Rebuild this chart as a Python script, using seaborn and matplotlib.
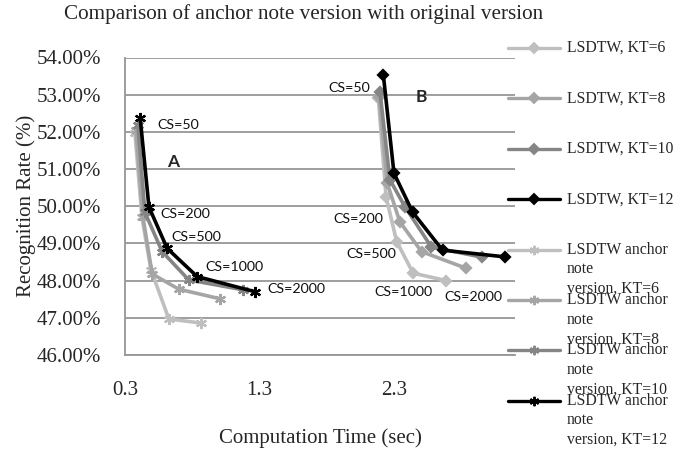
import numpy as np
import pandas as pd
import matplotlib
matplotlib.use("Agg")
import matplotlib.pyplot as plt
from matplotlib.lines import Line2D
from matplotlib.ticker import FuncFormatter, FixedLocator
import seaborn as sns

# ---- data -------------------------------------------------------------
cs_labels = ["CS=50", "CS=200", "CS=500", "CS=1000", "CS=2000"]

# original LSDTW (computation time in sec, recognition rate in %)
lsdtw_kt6_time = [2.184, 2.241, 2.320, 2.443, 2.690]
lsdtw_kt6_rate = [52.90, 50.26, 49.05, 48.20, 48.00]
lsdtw_kt8_time = [2.189, 2.250, 2.344, 2.505, 2.839]
lsdtw_kt8_rate = [52.95, 50.62, 49.58, 48.78, 48.33]
lsdtw_kt10_time = [2.196, 2.270, 2.381, 2.579, 2.957]
lsdtw_kt10_rate = [53.08, 50.71, 49.99, 48.90, 48.63]
lsdtw_kt12_time = [2.221, 2.300, 2.439, 2.661, 3.122]
lsdtw_kt12_rate = [53.53, 50.89, 49.84, 48.82, 48.64]

# anchor note version
anchor_kt6_time = [0.374, 0.426, 0.493, 0.626, 0.863]
anchor_kt6_rate = [51.97, 49.70, 48.29, 46.97, 46.86]
anchor_kt8_time = [0.381, 0.433, 0.502, 0.700, 1.009]
anchor_kt8_rate = [52.05, 49.72, 48.18, 47.77, 47.51]
anchor_kt10_time = [0.396, 0.448, 0.576, 0.774, 1.181]
anchor_kt10_rate = [52.18, 49.84, 48.78, 48.02, 47.75]
anchor_kt12_time = [0.413, 0.478, 0.613, 0.836, 1.268]
anchor_kt12_rate = [52.37, 49.98, 48.87, 48.11, 47.70]

series_names = ["LSDTW, KT=6", "LSDTW, KT=8", "LSDTW, KT=10", "LSDTW, KT=12",
                "LSDTW anchor\nnote\nversion, KT=6", "LSDTW anchor\nnote\nversion, KT=8",
                "LSDTW anchor\nnote\nversion, KT=10", "LSDTW anchor\nnote\nversion, KT=12"]
series_time = [lsdtw_kt6_time, lsdtw_kt8_time, lsdtw_kt10_time, lsdtw_kt12_time,
               anchor_kt6_time, anchor_kt8_time, anchor_kt10_time, anchor_kt12_time]
series_rate = [lsdtw_kt6_rate, lsdtw_kt8_rate, lsdtw_kt10_rate, lsdtw_kt12_rate,
               anchor_kt6_rate, anchor_kt8_rate, anchor_kt10_rate, anchor_kt12_rate]

x_ticks = [0.3, 1.3, 2.3]
y_ticks = [46, 47, 48, 49, 50, 51, 52, 53, 54]

# CS annotations for each group (time, rate)
group_a_label_pos = [(0.693, 52.18), (0.752, 49.79), (0.833, 49.17), (1.111, 48.37), (1.578, 47.78)]
group_b_label_pos = [(1.970, 53.18), (2.033, 49.66), (2.133, 48.72), (2.370, 47.69), (2.889, 47.56)]

# ---- style ------------------------------------------------------------
sns.set_theme(style="white")
plt.rcParams["font.family"] = ["Liberation Serif", "DejaVu Serif"]

W, H = 693, 453
fig = plt.figure(figsize=(W / 100, H / 100), dpi=100)
ax = fig.add_axes([125 / W, 1 - 355 / H, 390 / W, (355 - 57.5) / H])

shades = ["#BFBFBF", "#A5A5A5", "#858585", "#000000"]
colors = shades + shades
diamond = "D"
star = (6, 2, 0)
markers = [diamond] * 4 + [star] * 4
msizes = [5.5] * 4 + [8] * 4

for name, t, r, c, m, ms in zip(series_names, series_time, series_rate, colors, markers, msizes):
    df = pd.DataFrame({"time": t, "rate": r})
    sns.lineplot(data=df, x="time", y="rate", ax=ax, color=c, lw=2.6,
                 marker=m, markersize=ms, markeredgecolor=c, markerfacecolor=c,
                 markeredgewidth=1.6, sort=False, legend=False)

ax.set_xlim(0.3, 3.2)
ax.set_ylim(46, 54)
ax.xaxis.set_major_locator(FixedLocator(x_ticks))
ax.yaxis.set_major_locator(FixedLocator(y_ticks))
ax.yaxis.set_major_formatter(FuncFormatter(lambda v, p: f"{v:.2f}%"))
ax.xaxis.set_major_formatter(FuncFormatter(lambda v, p: f"{v:.1f}"))
ax.tick_params(axis="y", length=0, pad=17, labelsize=15)
ax.tick_params(axis="x", length=0, pad=19, labelsize=15)
ax.grid(axis="y", color="#969696", lw=1.3)
ax.grid(axis="x", visible=False)
for s in ["top", "right"]:
    ax.spines[s].set_visible(False)
for s in ["left", "bottom"]:
    ax.spines[s].set_color("#969696")
    ax.spines[s].set_linewidth(1.3)

ax.set_xlabel("Computation Time (sec)", fontsize=15, labelpad=20)
ax.set_ylabel("Recognition Rate (%)", fontsize=15, labelpad=0)
ax.yaxis.set_label_coords(-0.228, 0.5)

# CS annotations
sans = ["Lato", "DejaVu Sans"]
for lbl, (x, y) in zip(cs_labels, group_a_label_pos):
    ax.text(x, y, lbl, ha="center", va="center", fontsize=10.3, family=sans, color="#111111")
for lbl, (x, y) in zip(cs_labels, group_b_label_pos):
    ax.text(x, y, lbl, ha="center", va="center", fontsize=10.3, family=sans, color="#111111")
ax.text(0.656, 51.19, "A", ha="center", va="center", fontsize=12.5, fontweight="bold", family=sans)
ax.text(2.507, 52.94, "B", ha="center", va="center", fontsize=12.5, fontweight="bold", family=sans)

# title
fig.text(303.5 / W, 1 - 14 / H, "Comparison of anchor note version with original version",
         ha="center", va="center", fontsize=15.2)

# legend, drawn on the figure in pixel units
def fx(px):
    return px / W

def fy(py):
    return 1 - py / H

for i, (name, c, m, ms) in enumerate(zip(series_names, colors, markers, msizes)):
    yy = 48 + 50.4 * i
    fig.add_artist(Line2D([fx(508), fx(560)], [fy(yy), fy(yy)], color=c, lw=2.4))
    fig.add_artist(Line2D([fx(534)], [fy(yy)], color=c, marker=m,
                          markersize=ms * 0.85, markeredgecolor=c, markerfacecolor=c,
                          markeredgewidth=1.4))
    fig.text(fx(567), fy(yy - 8), name, ha="left", va="top", fontsize=11.3,
             linespacing=1.3)

fig.savefig("out.png", dpi=100)
